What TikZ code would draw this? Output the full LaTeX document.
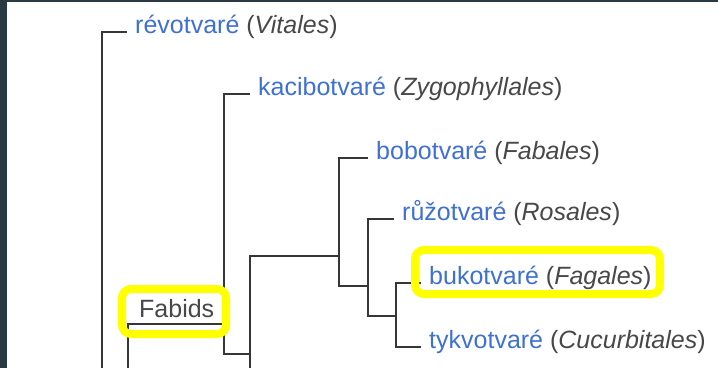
\documentclass[tikz,border=0pt]{standalone}
\usepackage{fontspec}
\setmainfont{Liberation Sans}
\usepackage{xcolor}
\usepackage{tikz}
\usetikzlibrary{calc}
\definecolor{linkblue}{HTML}{3F70D3}
\definecolor{namegray}{HTML}{484848}
\definecolor{branchgray}{HTML}{363636}
\definecolor{markyellow}{HTML}{FFFF00}
\definecolor{framedark}{HTML}{2A3A42}
\newcommand{\taxon}[2]{\textcolor{linkblue}{#1} \textcolor{namegray}{(\textit{#2})}}

\begin{document}
\begin{tikzpicture}[x=1pt,y=-1pt,
  branch/.style={draw=branchgray,line width=2pt},
  taxname/.style={anchor=base west,inner xsep=8pt,inner ysep=0pt,font=\fontsize{25}{30}\selectfont},
  hilite/.style={draw=markyellow,line width=8pt,rounded corners=9pt}]
  \fill[white] (0,0) rectangle (718,368);
  \useasboundingbox (0,0) rectangle (718,368);
  \fill[framedark] (0,0) rectangle (7,368);
  \fill[framedark] (0,0) rectangle (718,2);

  \coordinate (vitBot) at (102,368);
  \coordinate (vitTop) at (102,32);
  \coordinate (fabidsBot) at (128,368);
  \coordinate (fabidsTop) at (128,324);
  \coordinate (zygTop) at (224,94);
  \coordinate (zygBot) at (224,354);
  \coordinate (coreBot) at (250,368);
  \coordinate (coreTop) at (250,256);
  \coordinate (fabTop) at (339,158);
  \coordinate (fabBot) at (339,286);
  \coordinate (rosTop) at (368,219);
  \coordinate (rosBot) at (368,316);
  \coordinate (fagTop) at (396,283);
  \coordinate (fagBot) at (396,347);

  \node[taxname] (vit) at (127,33) {\taxon{révotvaré}{Vitales}};
  \node[taxname] (zyg) at (250,95) {\taxon{kacibotvaré}{Zygophyllales}};
  \node[taxname] (fab) at (368,159) {\taxon{bobotvaré}{Fabales}};
  \node[taxname] (ros) at (394,220) {\taxon{růžotvaré}{Rosales}};
  \node[taxname] (fag) at (421,284) {\taxon{bukotvaré}{Fagales}};
  \node[taxname] (cuc) at (421,348) {\taxon{tykvotvaré}{Cucurbitales}};
  \node[taxname,text=namegray] (fabids) at (131,317) {Fabids};

  \draw[branch] (vitBot) -- (vitTop) -- (vitTop -| vit.west);
  \draw[branch] (fabidsBot) -- (fabidsTop) -- (fabidsTop -| zygTop);
  \draw[branch] (zygBot -| coreTop) -- (zygBot) -- (zygTop) -- (zygTop -| zyg.west);
  \draw[branch] (coreBot) -- (coreTop) -- (coreTop -| fabTop);
  \draw[branch] (fabBot -| rosTop) -- (fabBot) -- (fabTop) -- (fabTop -| fab.west);
  \draw[branch] (rosBot -| fagTop) -- (rosBot) -- (rosTop) -- (rosTop -| ros.west);
  \draw[branch] (fagBot -| cuc.west) -- (fagBot) -- (fagTop) -- (fagTop -| fag.west);

  \draw[hilite] (122,289) rectangle (226,334);
  \draw[hilite] (415,250) rectangle (660,294);
\end{tikzpicture}
\end{document}
